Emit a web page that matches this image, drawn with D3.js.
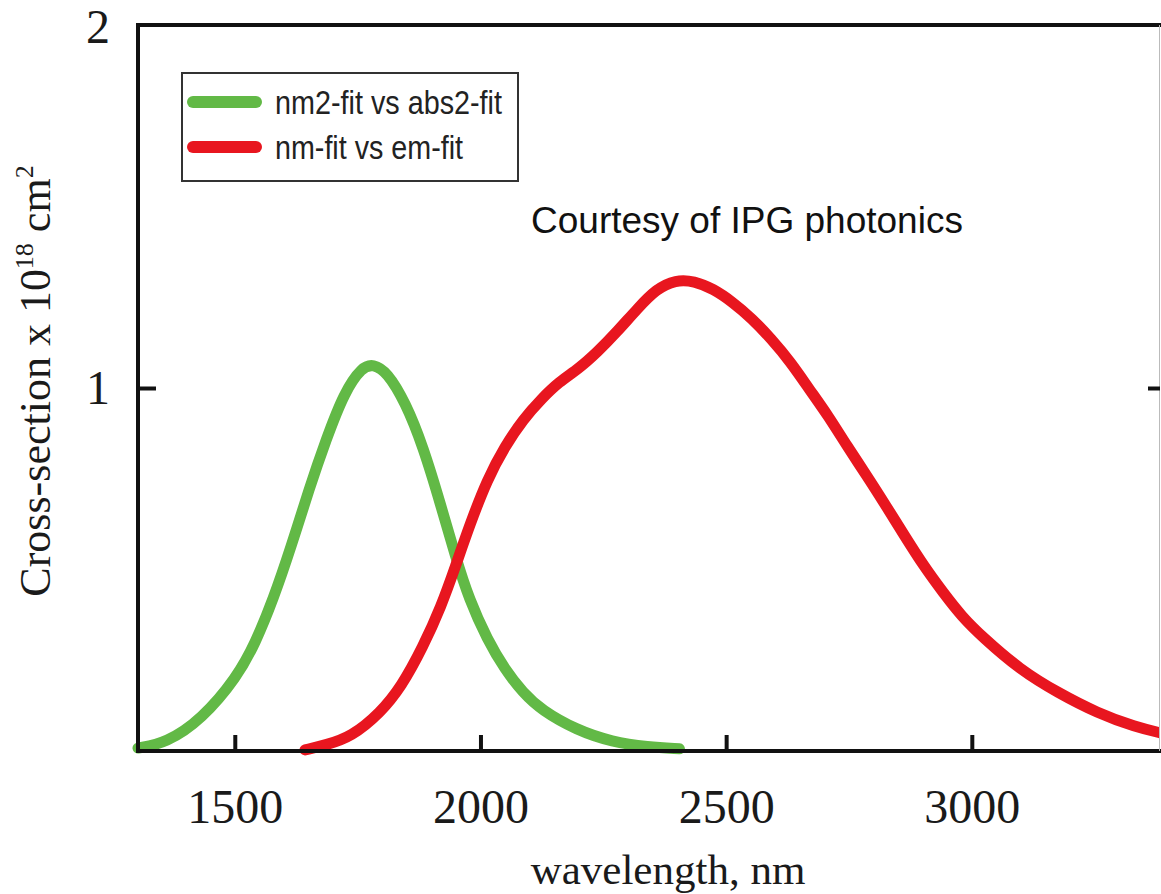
<!DOCTYPE html>
<html>
<head>
<meta charset="utf-8">
<script src="https://cdn.jsdelivr.net/npm/d3@7"></script>
<style>
    html, body { margin: 0; padding: 0; background: #fff; }
    svg { display: block; }
</style>
</head>
<body>
<div id="chart"></div>
<script>
// wavelength (nm) and cross-section (x 1e-18 cm^2)
const greenWavelength = [1303, 1360, 1432, 1505, 1542, 1578, 1615, 1651, 1686, 1723, 1759, 1782, 1810, 1847, 1883, 1920, 1949, 1977, 2014, 2050, 2087, 2124, 2195, 2268, 2341, 2405];
const greenValues = [0.008, 0.022, 0.086, 0.204, 0.298, 0.417, 0.564, 0.721, 0.859, 0.989, 1.058, 1.066, 1.044, 0.961, 0.840, 0.674, 0.536, 0.417, 0.307, 0.224, 0.160, 0.113, 0.058, 0.025, 0.011, 0.006];

const redWavelength = [1643, 1686, 1737, 1796, 1839, 1883, 1920, 1949, 1977, 2014, 2050, 2087, 2124, 2160, 2199, 2238, 2278, 2319, 2358, 2397, 2435, 2474, 2512, 2553, 2592, 2631, 2669, 2708, 2746, 2787, 2826, 2864, 2903, 2942, 2980, 3021, 3098, 3176, 3255, 3333, 3390];
const redValues = [0.003, 0.017, 0.039, 0.105, 0.177, 0.287, 0.398, 0.508, 0.619, 0.749, 0.840, 0.914, 0.970, 1.017, 1.052, 1.099, 1.155, 1.218, 1.273, 1.298, 1.295, 1.273, 1.238, 1.191, 1.135, 1.072, 0.997, 0.923, 0.840, 0.757, 0.674, 0.591, 0.508, 0.436, 0.370, 0.315, 0.224, 0.160, 0.105, 0.066, 0.048];

const xTicks = [1500, 2000, 2500, 3000];
const yTicks = [1, 2];
const seriesNames = ['nm2-fit vs abs2-fit', 'nm-fit vs em-fit'];
const seriesColors = ['#62b946', '#e8161f'];

const width = 1161, height = 894;
const margin = {top: 25, right: 1, bottom: 143, left: 138};
const serif = '"Liberation Serif", "Times New Roman", serif';
const sans = '"Liberation Sans", Arial, sans-serif';

const svg = d3.select('#chart').append('svg')
    .attr('width', width)
    .attr('height', height)
    .attr('viewBox', `0 0 ${width} ${height}`);

const xScale = d3.scaleLinear()
    .domain([1303, 3383])
    .range([margin.left, width - margin.right]);

const yScale = d3.scaleLinear()
    .domain([0, 2])
    .range([height - margin.bottom, margin.top]);

svg.append('defs').append('clipPath')
    .attr('id', 'plot-clip')
    .append('rect')
    .attr('x', margin.left - 10)
    .attr('y', 0)
    .attr('width', width - margin.right - margin.left + 10)
    .attr('height', height);

// curves
const series = [
    greenWavelength.map((w, i) => ({x: w, y: greenValues[i]})),
    redWavelength.map((w, i) => ({x: w, y: redValues[i]}))
];

const line = d3.line()
    .x(d => xScale(d.x))
    .y(d => yScale(d.y))
    .curve(d3.curveBasis);

svg.append('g')
    .attr('clip-path', 'url(#plot-clip)')
    .selectAll('path')
    .data(series)
    .enter()
    .append('path')
    .attr('d', line)
    .attr('fill', 'none')
    .attr('stroke', (d, i) => seriesColors[i])
    .attr('stroke-width', 11)
    .attr('stroke-linecap', 'round')
    .attr('stroke-linejoin', 'round');

// frame
const x0 = margin.left, x1 = width - margin.right;
const y0 = height - margin.bottom, y1 = margin.top;
svg.append('path')
    .attr('d', `M${x0},${y0}H${width}M${x0},${y0 + 2}V${y1}M${x0 - 2},${y1}H${width}`)
    .attr('fill', 'none')
    .attr('stroke', '#111')
    .attr('stroke-width', 4);
svg.append('line')
    .attr('x1', x1 - 0.5).attr('x2', x1 - 0.5)
    .attr('y1', y1).attr('y2', y0)
    .attr('stroke', '#bbb')
    .attr('stroke-width', 1);

// axes
const xAxis = d3.axisBottom(xScale)
    .tickValues(xTicks)
    .tickSizeInner(-16)
    .tickSizeOuter(0)
    .tickPadding(38)
    .tickFormat(d3.format('d'));

const gx = svg.append('g')
    .attr('transform', `translate(0, ${y0})`)
    .call(xAxis);

const yAxis = d3.axisLeft(yScale)
    .tickValues(yTicks)
    .tickSizeInner(-18)
    .tickSizeOuter(0)
    .tickPadding(28)
    .tickFormat(d3.format('d'));

const gy = svg.append('g')
    .attr('transform', `translate(${x0}, 0)`)
    .call(yAxis);

const yAxisRight = d3.axisRight(yScale)
    .tickValues([1])
    .tickSizeInner(-12)
    .tickSizeOuter(0)
    .tickFormat('');

const gr = svg.append('g')
    .attr('transform', `translate(${x1}, 0)`)
    .call(yAxisRight);

[gx, gy, gr].forEach(g => {
    g.select('.domain').remove();
    g.selectAll('.tick line').attr('stroke', '#111').attr('stroke-width', 4);
    g.selectAll('.tick text')
        .attr('fill', '#1a1a1a')
        .attr('font-family', serif)
        .attr('font-size', 48);
});
// top tick sits on the frame corner: no mark, label kept inside the page
const topTick = gy.selectAll('.tick').filter(d => d === 2);
topTick.select('line').remove();
topTick.select('text').attr('dy', '0.36em');

// axis titles
svg.append('text')
    .attr('x', 668)
    .attr('y', 884)
    .attr('text-anchor', 'middle')
    .attr('font-family', serif)
    .attr('font-size', 43)
    .attr('fill', '#1a1a1a')
    .text('wavelength, nm');

const yTitle = svg.append('text')
    .attr('transform', 'translate(50, 381) rotate(-90)')
    .attr('text-anchor', 'middle')
    .attr('font-family', serif)
    .attr('font-size', 44)
    .attr('fill', '#1a1a1a');
yTitle.append('tspan').text('Cross-section x 10');
yTitle.append('tspan').attr('font-size', 26).attr('dy', -17).text('18');
yTitle.append('tspan').attr('dy', 17).text(' cm');
yTitle.append('tspan').attr('font-size', 26).attr('dy', -17).text('2');

// note
svg.append('text')
    .attr('x', 531)
    .attr('y', 233)
    .attr('font-family', sans)
    .attr('font-size', 37)
    .attr('fill', '#111')
    .text('Courtesy of IPG photonics');

// legend
const legend = svg.append('g');
legend.append('rect')
    .attr('x', 182)
    .attr('y', 73)
    .attr('width', 336)
    .attr('height', 108)
    .attr('fill', '#fff')
    .attr('stroke', '#333')
    .attr('stroke-width', 2);

const textWidths = [227, 188];
const items = legend.selectAll('.item')
    .data(seriesNames)
    .enter()
    .append('g')
    .attr('transform', (d, i) => `translate(0, ${102 + i * 45})`);

items.append('line')
    .attr('x1', 193)
    .attr('x2', 256)
    .attr('stroke', (d, i) => seriesColors[i])
    .attr('stroke-width', 12)
    .attr('stroke-linecap', 'round');

items.append('text')
    .attr('x', 275)
    .attr('y', 12)
    .attr('font-family', sans)
    .attr('font-size', 34)
    .attr('fill', '#222')
    .attr('textLength', (d, i) => textWidths[i])
    .attr('lengthAdjust', 'spacingAndGlyphs')
    .text(d => d);
</script>
</body>
</html>
